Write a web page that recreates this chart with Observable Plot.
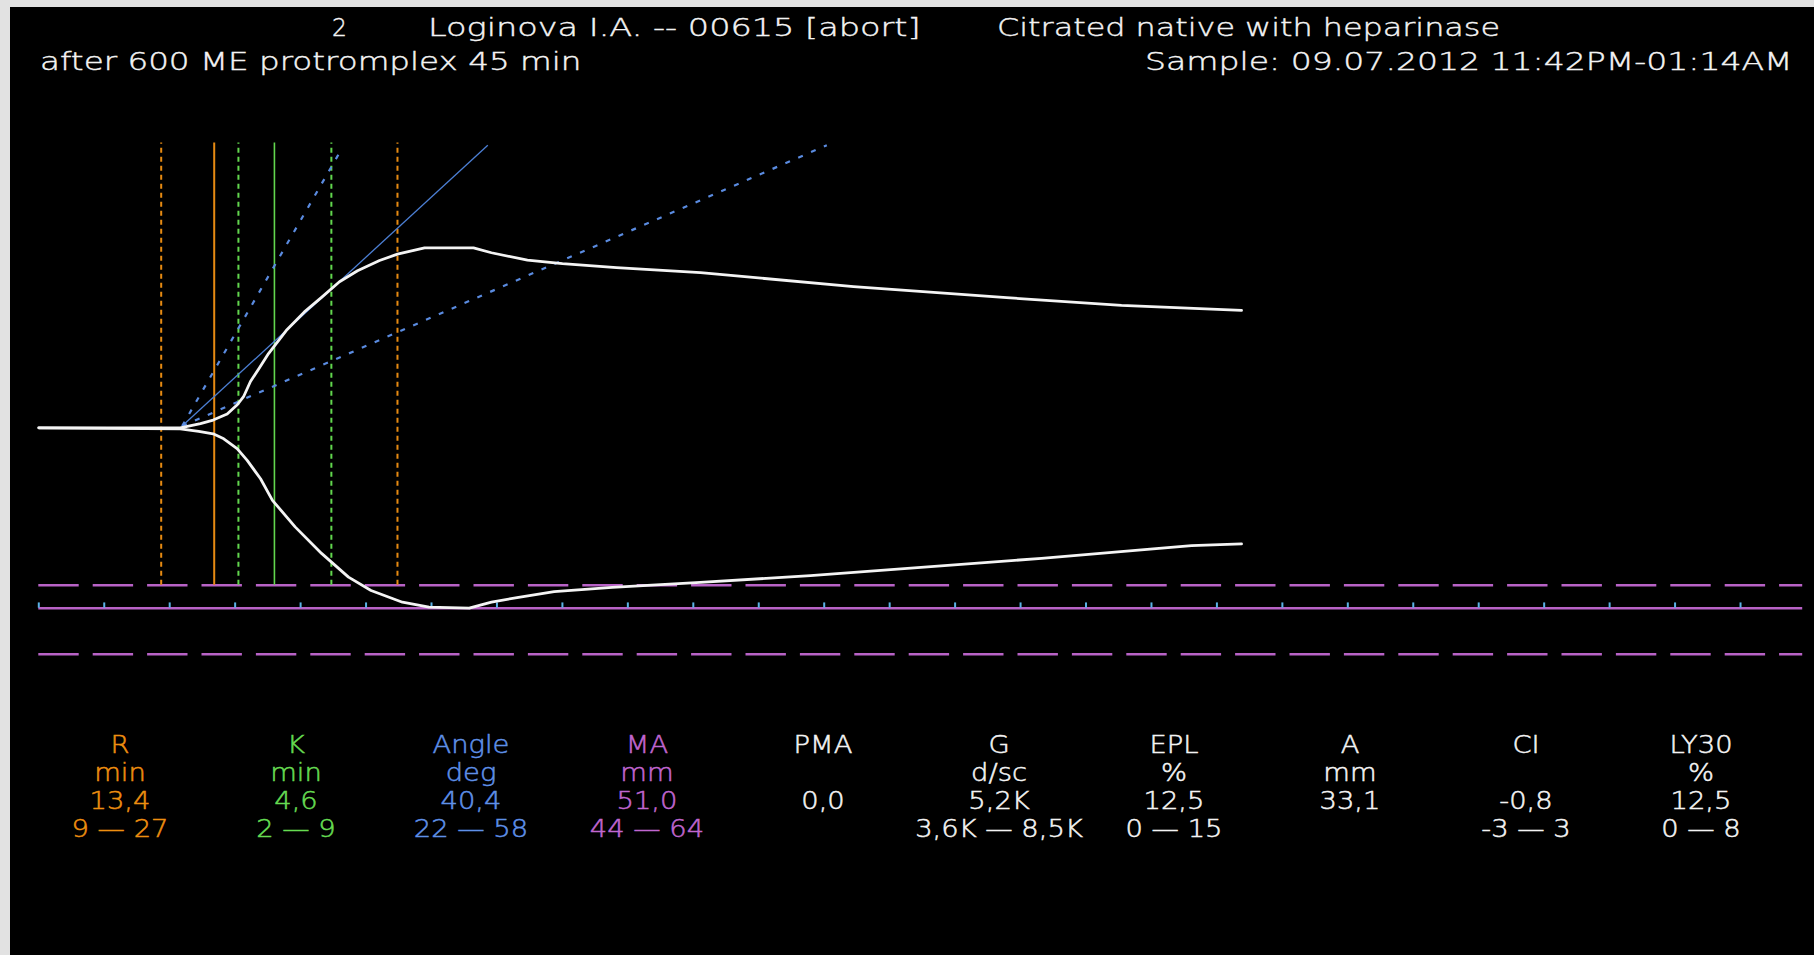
<!DOCTYPE html>
<html><head><meta charset="utf-8">
<script src="https://cdn.jsdelivr.net/npm/d3@7"></script>
<script src="https://cdn.jsdelivr.net/npm/@observablehq/plot@0.6"></script>
<style>
html,body{margin:0;padding:0;width:1814px;height:955px;overflow:hidden;background:#e2e2e2;}
#panel{position:absolute;left:10px;top:7px;width:1804px;height:948px;background:#000;}
.t{position:absolute;font-family:"DejaVu Sans",sans-serif;font-weight:200;color:#f4f4f4;white-space:pre;font-size:25px;line-height:25px;-webkit-text-stroke:0.4px currentColor;}
.s{position:absolute;font-family:"DejaVu Sans",sans-serif;font-weight:200;white-space:pre;font-size:24px;line-height:24px;text-align:center;width:300px;-webkit-text-stroke:0.5px currentColor;}
#chart{position:absolute;left:10px;top:100px;}
</style></head><body>
<div id="panel"></div>
<div id="header"></div>
<div id="chart"></div>
<div id="stats"></div>
<script>
// ---------- data ----------
const headerLine1 = ["2", "Loginova I.A. -- 00615 [abort]", "Citrated native with heparinase"];
const headerLine2Left = "after 600 ME protromplex 45 min";
const headerLine2Right = "Sample: 09.07.2012 11:42PM-01:14AM";

// trace: time (min) and amplitude (mm), upper and lower branches
const upperTime = [0, 10.8, 12.35, 13.32, 14.39, 15.18, 15.64, 16.17, 16.86, 17.55, 18.9, 20.27, 21.6, 22.97, 24.35, 26.03, 27.4, 29.47, 33.21, 34.58, 37.33, 40.0, 44.13, 50.55, 62.24, 73.93, 82.71, 91.88];
const upperAmp  = [0, 0, 1.2, 2.2, 3.9, 6.6, 8.8, 13.1, 17.0, 21.0, 27.5, 32.7, 36.9, 41.3, 44.4, 47.3, 49.1, 50.9, 50.9, 49.5, 47.4, 46.4, 45.3, 43.9, 39.9, 36.8, 34.6, 33.2];
const lowerTime = [0, 10.8, 12.22, 13.32, 14.13, 15.15, 15.92, 16.94, 17.85, 19.58, 21.6, 23.66, 25.38, 27.78, 29.81, 32.88, 34.58, 36.65, 39.37, 43.8, 50.55, 58.95, 76.6, 84.9, 88.06, 91.88];
const lowerAmp  = [0, 0.3, 1.0, 1.7, 3.1, 5.9, 9.2, 14.4, 20.5, 28.0, 35.5, 42.2, 46.0, 49.3, 50.7, 51.0, 49.3, 47.9, 46.3, 45.1, 43.7, 41.8, 36.9, 34.3, 33.3, 32.8];

// time axis ticks (min)
const timeTicks = [0,5,10,15,20,25,30,35,40,45,50,55,60,65,70,75,80,85,90,95,100,105,110,115,120,125,130];
const timeEnd = 134.75;

// reference verticals (min)
const rRangeLines = [9.35, 27.4];
const rValueLine = [13.4];
const kRangeLines = [15.25, 22.35];
const kValueLine = [18.0];
const refTop = 80.5;

// MA levels (mm, drawn below the baseline)
const maRangeLevels = [-44.5, -64];
const maValueLevel = [-51];

// angle lines: start/end (time, amplitude)
const angleKinds = ["value", "high", "low"];
const angleT1 = [10.95, 10.95, 10.95];
const angleA1 = [0.5, 0.5, 0.5];
const angleT2 = [34.3, 23.1, 60.2];
const angleA2 = [79.9, 78.6, 79.9];

// parameter table
const paramNames  = ["R", "K", "Angle", "MA", "PMA", "G", "EPL", "A", "CI", "LY30"];
const paramUnits  = ["min", "min", "deg", "mm", "", "d/sc", "%", "mm", "", "%"];
const paramValues = ["13,4", "4,6", "40,4", "51,0", "0,0", "5,2K", "12,5", "33,1", "-0,8", "12,5"];
const paramRanges = ["9 — 27", "2 — 9", "22 — 58", "44 — 64", "", "3,6K — 8,5K", "0 — 15", "", "-3 — 3", "0 — 8"];

// ---------- styles ----------
const ORANGE = "#ee8f10", GREEN = "#66dc52", BLUE = "#5f90e8", MAGENTA = "#c066d0", WHITE = "#f4f4f4", TICK = "#5ab2e6";
const LINE_MAGENTA = "#b862c6", LINE_ORANGE = "#e68a12", LINE_GREEN = "#62d64e", LINE_BLUE = "#5a8be0";
const paramColors = [ORANGE, GREEN, BLUE, MAGENTA, WHITE, WHITE, WHITE, WHITE, WHITE, WHITE];

// ---------- header ----------
const header = document.getElementById("header");
function addText(parent, cls, txt, css, sx, origin, targetW) {
  const d = document.createElement("div");
  d.className = cls;
  d.textContent = txt;
  Object.assign(d.style, css);
  parent.appendChild(d);
  let s = sx;
  if (targetW) s = targetW / d.offsetWidth;
  d.style.transform = `scaleX(${s})`;
  d.style.transformOrigin = origin;
  return d;
}
const line1Left = [332, 428, 997];
const line1W = [15, 492, 503];
headerLine1.forEach((txt, i) => addText(header, "t", txt, {left: line1Left[i] + "px", top: "15px"}, 1.3, "left", line1W[i]));
addText(header, "t", headerLine2Left, {left: "40px", top: "48.5px"}, 1.3, "left", 542);
addText(header, "t", headerLine2Right, {right: "21px", top: "48.5px"}, 1.3, "right", 648);

// ---------- chart ----------
const upper = upperTime.map((t, i) => ({t, a: upperAmp[i]}));
const lower = lowerTime.map((t, i) => ({t, a: -lowerAmp[i]}));
const angleLines = angleKinds.map((k, i) => ({k, t1: angleT1[i], a1: angleA1[i], t2: angleT2[i], a2: angleA2[i]}));

const chart = Plot.plot({
  width: 1804,
  height: 612,
  marginLeft: 28.3,
  marginRight: 11.8,
  marginTop: 9,
  marginBottom: 1.7,
  x: {domain: [0, timeEnd], axis: null},
  y: {domain: [-80, 90], axis: null},
  style: {background: "transparent", overflow: "visible"},
  marks: [
    Plot.ruleY(maRangeLevels, {x1: 0, x2: timeEnd, stroke: LINE_MAGENTA, strokeWidth: 2.5, strokeDasharray: "40.4,14"}),
    Plot.ruleY(maValueLevel, {x1: 0, x2: timeEnd, stroke: LINE_MAGENTA, strokeWidth: 2.5}),
    Plot.ruleX(timeTicks, {y1: maValueLevel[0], y2: maValueLevel[0] + 1.5, stroke: TICK, strokeWidth: 2}),
    Plot.ruleX(rRangeLines, {y1: maRangeLevels[0], y2: refTop, stroke: LINE_ORANGE, strokeWidth: 2, strokeDasharray: "5,4"}),
    Plot.ruleX(rValueLine, {y1: maRangeLevels[0], y2: refTop, stroke: LINE_ORANGE, strokeWidth: 2}),
    Plot.ruleX(kRangeLines, {y1: maRangeLevels[0], y2: refTop, stroke: LINE_GREEN, strokeWidth: 2, strokeDasharray: "5,4"}),
    Plot.ruleX(kValueLine, {y1: maRangeLevels[0], y2: refTop, stroke: LINE_GREEN, strokeWidth: 1.6}),
    Plot.link(angleLines.filter(d => d.k === "value"), {x1: "t1", y1: "a1", x2: "t2", y2: "a2", stroke: "#4c7fd4", strokeWidth: 1.3}),
    Plot.link(angleLines.filter(d => d.k !== "value"), {x1: "t1", y1: "a1", x2: "t2", y2: "a2", stroke: LINE_BLUE, strokeWidth: 2.2, strokeDasharray: "5,9"}),
    Plot.line(upper, {x: "t", y: "a", stroke: WHITE, strokeWidth: 2.8}),
    Plot.line(lower, {x: "t", y: "a", stroke: WHITE, strokeWidth: 2.8})
  ]
});
document.getElementById("chart").appendChild(chart);

// ---------- parameter table ----------
const stats = document.getElementById("stats");
const rowTops = [753.3, 781, 809, 837.5].map(b => b - 20.3);
paramNames.forEach((name, i) => {
  const cx = 120 + i * 175.7;
  const rows = [name, paramUnits[i], paramValues[i], paramRanges[i]];
  rows.forEach((txt, r) => {
    if (!txt) return;
    addText(stats, "s", txt, {left: (cx - 150) + "px", top: rowTops[r] + "px", color: paramColors[i]}, 1.14, "center");
  });
});
</script>
</body></html>
